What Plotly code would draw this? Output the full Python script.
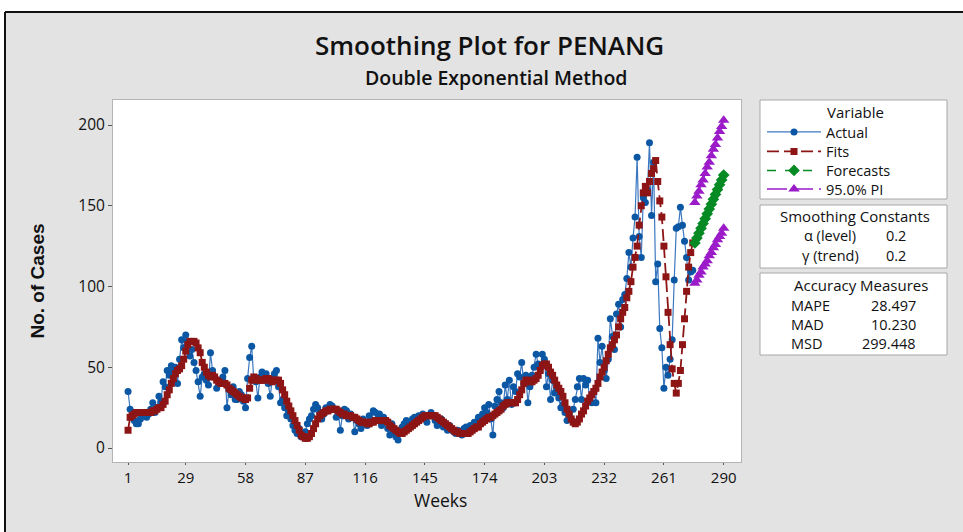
import plotly.graph_objects as go

actual = [
    35, 24, 20, 17, 15, 15, 18, 20, 22, 19,
    21, 24, 28, 22, 25, 32, 29, 41, 38, 48,
    45, 51, 47, 50, 40, 55, 67, 62, 70, 66,
    57, 61, 53, 48, 41, 32, 44, 46, 42, 39,
    59, 48, 44, 37, 42, 40, 44, 48, 25, 36,
    33, 38, 30, 30, 35, 33, 29, 25, 43, 56,
    63, 42, 41, 31, 44, 47, 45, 46, 40, 32,
    43, 46, 48, 38, 28, 30, 25, 20, 22, 18,
    14, 11, 9, 12, 7, 8, 10, 15, 18, 20,
    24, 27, 25, 22, 18, 21, 25, 23, 27, 26,
    24, 19, 22, 11, 20, 24, 23, 18, 21, 19,
    10, 17, 15, 12, 18, 16, 14, 20, 17, 23,
    22, 18, 21, 14, 19, 17, 12, 8, 15, 10,
    7, 5, 9, 13, 15, 17, 12, 16, 18, 19,
    17, 20, 18, 21, 19, 16, 20, 22, 20, 17,
    14, 16, 18, 13, 15, 11, 14, 12, 10, 9,
    11, 9, 8, 12, 13, 10, 14, 12, 16, 15,
    19, 17, 21, 25, 22, 27, 18, 8, 26, 30,
    35, 28, 25, 39, 30, 42, 27, 38, 35, 46,
    44, 53, 40, 45, 28, 38, 45, 50, 58, 52,
    49, 58, 55, 38, 46, 30, 42, 34, 36, 31,
    25, 27, 22, 17, 20, 18, 24, 30, 38, 43,
    30, 43, 39, 42, 30, 28, 35, 28, 68, 53,
    63, 48, 43, 55, 80, 69, 61, 83, 89, 75,
    92, 95, 105, 121, 112, 130, 143, 180, 131, 118,
    155, 152, 160, 189, 144, 177, 103, 114, 74, 62,
    37, 50, 45, 55, 67, 104, 136, 137, 149, 138,
    128, 118, 104, 109, 110,
]

fits = [
    11, 19, 20, 21, 22, 22, 22, 22, 22, 22,
    22, 22, 23, 23, 24, 25, 25, 27, 29, 33,
    36, 40, 43, 46, 48, 49, 51, 55, 60, 64,
    66, 66, 66, 65, 62, 59, 53, 50, 47, 45,
    44, 45, 44, 42, 41, 40, 40, 40, 39, 37,
    36, 35, 34, 33, 32, 31, 31, 30, 31, 37,
    42, 44, 43, 42, 42, 42, 42, 43, 43, 42,
    41, 42, 42, 42, 40, 36, 33, 29, 26, 23,
    20, 17, 14, 11, 8, 7, 6, 6, 7, 9,
    12, 15, 18, 20, 21, 22, 23, 23, 24, 24,
    24, 24, 23, 22, 21, 21, 20, 20, 20, 19,
    19, 18, 17, 16, 16, 16, 15, 15, 16, 16,
    17, 17, 17, 17, 17, 17, 16, 14, 13, 12,
    11, 10, 9, 9, 10, 11, 12, 13, 14, 15,
    16, 17, 18, 19, 20, 20, 20, 20, 20, 20,
    19, 18, 17, 16, 15, 14, 13, 12, 11, 10,
    10, 9, 9, 9, 9, 9, 10, 11, 12, 13,
    13, 15, 16, 17, 18, 19, 19, 20, 21, 22,
    23, 24, 26, 27, 28, 28, 28, 28, 28, 30,
    33, 36, 40, 42, 42, 41, 41, 42, 43, 45,
    48, 51, 52, 52, 50, 47, 45, 42, 39, 37,
    35, 32, 28, 24, 21, 18, 16, 15, 16, 18,
    21, 23, 26, 29, 31, 33, 35, 37, 40, 44,
    47, 50, 54, 58, 62, 64, 67, 70, 75, 80,
    84, 87, 93, 97, 103, 112, 118, 125, 138, 150,
    158, 162, 158, 165, 170, 173, 178, 165, 153, 143,
    125, 106, 84, 64, 49, 40, 34, 40, 48, 64,
    80, 97, 112, 121, 127,
]

forecasts = [127, 130, 133, 136, 139, 142, 145, 148, 151, 154, 157, 160, 163, 166, 169]
pi_upper = [152, 156, 159, 163, 166, 170, 174, 177, 181, 185, 188, 192, 196, 199, 203]
pi_lower = [102, 104, 107, 109, 112, 114, 116, 119, 121, 124, 126, 129, 131, 133, 136]

weeks = list(range(1, len(actual) + 1))
fc_weeks = list(range(len(actual) + 1, len(actual) + 1 + len(forecasts)))

x_ticks = [1, 29, 58, 87, 116, 145, 174, 203, 232, 261, 290]
y_ticks = [0, 50, 100, 150, 200]

const_labels = ["α (level)", "γ (trend)"]
const_values = ["0.2", "0.2"]
acc_labels = ["MAPE", "MAD", "MSD"]
acc_values = ["28.497", "10.230", "299.448"]

BLUE = "#0B57A4"
BLUE_LINE = "#3C78C0"
RED = "#8E1515"
GREEN = "#068A24"
PURPLE = "#9B1BC9"
FONT = "Open Sans"
TXT = "#111111"
BOX_FS = 14

W, H = 963, 532
L, R, T, B = 113, 741, 100, 462
pw, ph = R - L, B - T


def px(xp):
    return (xp - L) / pw


def py(yp):
    return (B - yp) / ph


fig = go.Figure()
fig.add_trace(go.Scatter(x=weeks, y=actual, name="Actual", mode="lines+markers", legend="legend",
                         line=dict(color=BLUE_LINE, width=1.2),
                         marker=dict(symbol="circle", size=7, color=BLUE)))
fig.add_trace(go.Scatter(x=weeks, y=fits, name="Fits", mode="lines+markers", legend="legend2",
                         line=dict(color=RED, width=1.8, dash="12px,5px"),
                         marker=dict(symbol="square", size=7, color=RED)))
fig.add_trace(go.Scatter(x=fc_weeks, y=forecasts, name="Forecasts", mode="lines+markers",
                         legend="legend3",
                         line=dict(color=GREEN, width=1.5, dash="dash"),
                         marker=dict(symbol="diamond", size=9, color=GREEN)))
fig.add_trace(go.Scatter(x=fc_weeks, y=pi_upper, name="95.0% PI", mode="lines+markers",
                         legend="legend4", legendgroup="pi",
                         line=dict(color=PURPLE, width=1.5, dash="20px,6px"),
                         marker=dict(symbol="triangle-up", size=10, color=PURPLE)))
fig.add_trace(go.Scatter(x=fc_weeks, y=pi_lower, name="95.0% PI", mode="lines+markers",
                         legend="legend4", legendgroup="pi", showlegend=False,
                         line=dict(color=PURPLE, width=1.5, dash="20px,6px"),
                         marker=dict(symbol="triangle-up", size=10, color=PURPLE)))

shapes = [
    dict(type="rect", xref="paper", yref="paper", layer="below",
         x0=px(-20), x1=px(1000), y0=py(12), y1=py(-20),
         fillcolor="white", line=dict(width=0)),
    dict(type="rect", xref="paper", yref="paper", layer="below",
         x0=px(-20), x1=px(5), y0=py(560), y1=py(-20),
         fillcolor="white", line=dict(width=0)),
    dict(type="line", xref="paper", yref="paper", layer="below",
         x0=px(5), x1=px(1000), y0=py(12), y1=py(12),
         line=dict(color="#111111", width=2)),
    dict(type="line", xref="paper", yref="paper", layer="below",
         x0=px(5), x1=px(5), y0=py(12), y1=py(560),
         line=dict(color="#111111", width=2)),
]
for (y0, y1) in [(100, 199), (205, 268), (273, 355)]:
    shapes.append(dict(type="rect", xref="paper", yref="paper", layer="below",
                       x0=px(760), x1=px(947), y0=py(y1), y1=py(y0),
                       fillcolor="white", line=dict(color="#A8A8A8", width=1)))


def ann(text, xp, yp, size, anchor="center", weight=None):
    f = dict(family=FONT, size=size, color=TXT)
    if weight:
        f["weight"] = weight
    return dict(text=text, xref="paper", yref="paper",
                x=px(xp), y=py(yp), showarrow=False, font=f,
                xanchor=anchor, yanchor="middle")


annotations = [
    ann("Smoothing Plot for PENANG", 489, 45, 26, weight=600),
    ann("Double Exponential Method", 496, 77.5, 19.5, weight=600),
    ann("Weeks", 440, 500, 17.5),
    ann("Variable", 856, 112, BOX_FS + 1),
    ann("Smoothing Constants", 855, 215.5, BOX_FS + 1),
    ann("Accuracy Measures", 861, 285, BOX_FS + 1),
]
for i, (lab, val) in enumerate(zip(const_labels, const_values)):
    yy = 235.5 + i * 19.5
    annotations.append(ann(lab, 830, yy, BOX_FS + 0.5))
    annotations.append(ann(val, 896, yy, BOX_FS + 0.5))
for i, (lab, val) in enumerate(zip(acc_labels, acc_values)):
    yy = 305 + i * 19.3
    annotations.append(ann(lab, 789, yy, BOX_FS + 0.5, anchor="left"))
    annotations.append(ann(val, 918, yy, BOX_FS + 0.5, anchor="right"))


def leg(yp):
    return dict(x=px(762), y=py(yp), xanchor="left", yanchor="middle",
                bgcolor="rgba(0,0,0,0)", borderwidth=0,
                font=dict(family=FONT, size=BOX_FS + 0.5, color=TXT), itemwidth=54)


fig.update_layout(
    width=W, height=H,
    margin=dict(l=L, r=W - R, t=T, b=H - B, pad=0),
    paper_bgcolor="#E3E3E3",
    plot_bgcolor="white",
    font=dict(family=FONT, size=15, color=TXT),
    shapes=shapes,
    annotations=annotations,
    showlegend=True,
    legend=leg(132), legend2=leg(151.5), legend3=leg(170.5), legend4=leg(189),
    xaxis=dict(
        range=[-6.3, 298.4], tickvals=x_ticks, ticktext=[str(t) for t in x_ticks],
        showgrid=False, zeroline=False, showline=True, mirror=True, linecolor="#B5B5B5",
        ticks="outside", ticklen=2, tickcolor="#555555",
        tickfont=dict(family=FONT, size=15, color=TXT),
    ),
    yaxis=dict(
        range=[(448 - B) / 1.615, (448 - T) / 1.615], tickvals=y_ticks,
        showgrid=False, zeroline=False, showline=True, mirror=True, linecolor="#B5B5B5",
        ticks="outside", ticklen=4, tickcolor="#555555",
        tickfont=dict(family=FONT, size=15.5, color=TXT),
        title=dict(text="<b>No. of Cases</b>", font=dict(family="Liberation Sans", size=19, color=TXT),
                   standoff=28),
    ),
)

fig.write_html("out.html", config={"displayModeBar": False},
               post_script="document.body.style.margin='0';document.body.style.padding='0';"
                           "document.body.style.overflow='hidden';")
